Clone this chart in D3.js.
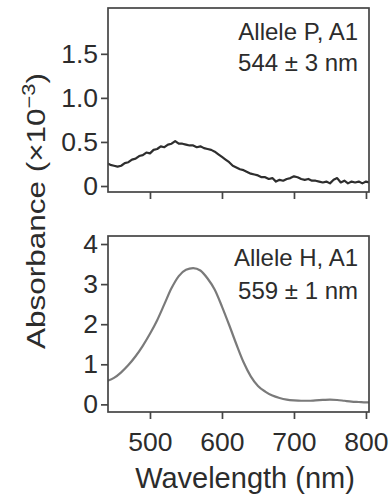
<!DOCTYPE html>
<html>
<head>
<meta charset="utf-8">
<script src="https://cdn.jsdelivr.net/npm/d3@7"></script>
<style>
  body { margin: 0; background: #fff; }
  svg { display: block; }
  text { font-family: "Liberation Sans", Arial, Helvetica, sans-serif; fill: #2c2c2c; }
</style>
</head>
<body>
<svg id="chart" width="391" height="499"></svg>
<script>
"use strict";

// wavelength grid of the noisy top trace (nm)
var pWavelength = [440,445,450,455,460,465,470,475,480,485,490,495,500,505,510,515,520,525,530,535,
                   540,545,550,555,560,565,570,575,580,585,590,595,600,605,610,615,620,625,630,635,
                   640,645,650,655,660,665,670,675,680,685,690,695,700,705,710,715,720,725,730,735,
                   740,745,750,755,760,765,770,775,780,785,790,795,800,805];
// allele P, absorbance x10^-3
var pAbsorbance = [0.26,0.24,0.23,0.22,0.23,0.26,0.27,0.30,0.31,0.34,0.35,0.38,0.37,0.41,0.42,0.45,0.44,0.47,0.48,0.51,
                   0.48,0.48,0.47,0.46,0.46,0.44,0.45,0.43,0.42,0.41,0.39,0.36,0.33,0.30,0.27,0.23,0.21,0.19,0.18,0.16,
                   0.14,0.13,0.12,0.10,0.10,0.08,0.09,0.05,0.07,0.06,0.08,0.09,0.11,0.10,0.08,0.07,0.08,0.06,0.06,0.05,
                   0.04,0.05,0.03,0.07,0.09,0.04,0.06,0.03,0.05,0.04,0.05,0.03,0.05,0.04];

// allele H, smoother trace
var hWavelength = [440,450,460,470,480,490,500,510,520,530,540,550,560,570,580,590,600,610,620,630,
                   640,650,660,670,680,690,700,710,720,730,740,750,760,770,780,790,800,810];
var hAbsorbance = [0.58,0.66,0.80,0.98,1.20,1.46,1.76,2.10,2.50,2.90,3.20,3.36,3.40,3.34,3.14,2.86,2.44,1.98,1.50,1.05,
                   0.70,0.46,0.32,0.22,0.16,0.12,0.10,0.09,0.09,0.10,0.11,0.12,0.11,0.09,0.07,0.06,0.05,0.05];

var xTicks = [500, 600, 700, 800];
var pTicks = [0, 0.5, 1.0, 1.5];
var pTickLabels = ["0", "0.5", "1.0", "1.5"];
var hTicks = [0, 1, 2, 3, 4];
var panelLabels = [["Allele P, A1", "544 \u00b1 3 nm"], ["Allele H, A1", "559 \u00b1 1 nm"]];

var svg = d3.select("#chart");
var frameColor = "#454545";

var left = 108, right = 369;
var x = d3.scaleLinear().domain([441.7, 804.2]).range([left, right]);

var panels = [
    { top: 8, bottom: 192, domain: [-0.068, 2.02], ticks: pTicks, labels: pTickLabels,
      wl: pWavelength, ab: pAbsorbance, color: "#2e2e2e", width: 2.2, curve: d3.curveLinear,
      text: panelLabels[0], textY: [40, 71], showX: false },
    { top: 236, bottom: 412, domain: [-0.19, 4.2], ticks: hTicks, labels: hTicks.map(String),
      wl: hWavelength, ab: hAbsorbance, color: "#7a7a7a", width: 2.2, curve: d3.curveMonotoneX,
      text: panelLabels[1], textY: [266, 299], showX: true }
];

panels.forEach(function(p, i) {
    var y = d3.scaleLinear().domain(p.domain).range([p.bottom, p.top]);
    var g = svg.append("g");

    g.append("clipPath").attr("id", "clip" + i)
        .append("rect").attr("x", left).attr("y", p.top)
        .attr("width", right - left).attr("height", p.bottom - p.top);

    // spectrum
    var line = d3.line()
        .x(function(d) { return x(d[0]); })
        .y(function(d) { return y(d[1]); })
        .curve(p.curve);
    g.append("path")
        .datum(d3.zip(p.wl, p.ab))
        .attr("clip-path", "url(#clip" + i + ")")
        .attr("fill", "none")
        .attr("stroke", p.color)
        .attr("stroke-width", p.width)
        .attr("stroke-linejoin", "round")
        .attr("d", line);

    // frame
    g.append("rect")
        .attr("x", left).attr("y", p.top)
        .attr("width", right - left).attr("height", p.bottom - p.top)
        .attr("fill", "none").attr("stroke", frameColor).attr("stroke-width", 1.7);

    // y axis
    var yAxis = g.append("g").attr("transform", "translate(" + left + ",0)")
        .call(d3.axisLeft(y).tickValues(p.ticks).tickSize(7).tickPadding(3)
            .tickFormat(function(d, k) { return p.labels[k]; }));
    yAxis.select(".domain").remove();

    // x axis
    var xAxis = g.append("g").attr("transform", "translate(0," + p.bottom + ")")
        .call(d3.axisBottom(x).tickValues(xTicks).tickSize(7).tickPadding(13));
    xAxis.select(".domain").remove();
    if (!p.showX) xAxis.selectAll("text").remove();

    g.selectAll(".tick line").attr("stroke", frameColor).attr("stroke-width", 1.7);
    g.selectAll(".tick text")
        .attr("font-family", "Liberation Sans, Arial, sans-serif")
        .attr("font-size", 26.5).attr("fill", "#2c2c2c");

    // annotation
    g.selectAll("text.note").data(p.text).enter().append("text")
        .attr("class", "note")
        .attr("x", 358).attr("y", function(d, k) { return p.textY[k]; })
        .attr("text-anchor", "end").attr("font-size", 24)
        .text(function(d) { return d; });
});

// axis titles
svg.append("text")
    .attr("x", 245).attr("y", 488)
    .attr("text-anchor", "middle").attr("font-size", 29)
    .text("Wavelength (nm)");

// y title, stretched along its reading direction to span the reference length
var yt = svg.append("text")
    .attr("text-anchor", "middle").attr("font-size", 26);
yt.append("tspan").text("Absorbance (\u00d710");
yt.append("tspan").attr("font-size", 18).attr("dy", -10).text("\u22123");
yt.append("tspan").attr("dy", 10).text(")");
var len = yt.node().getComputedTextLength();
var stretch = 276 / len;
yt.attr("transform", "translate(45,211) rotate(-90) scale(" + stretch + ",1)");
</script>
</body>
</html>
